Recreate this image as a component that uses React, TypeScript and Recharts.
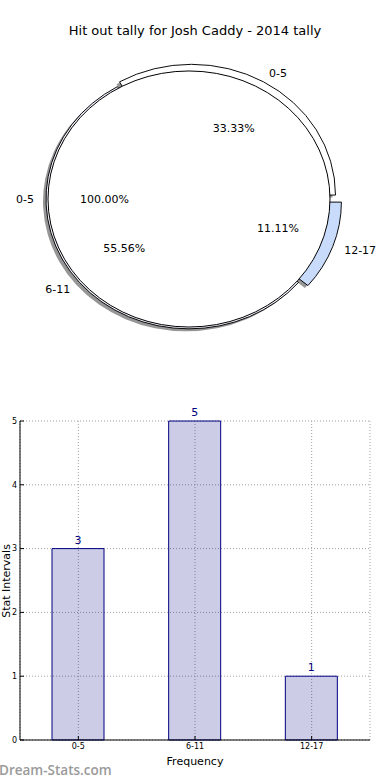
import {
  Bar,
  BarChart,
  CartesianGrid,
  LabelList,
  Pie,
  PieChart,
  Sector,
  XAxis,
  YAxis,
} from "recharts";

const sliceLabels = ["0-5", "6-11", "12-17"];
const sliceValues = [3, 5, 1];
const wholeLabels = ["0-5"];
const wholeValues = [1];
const barCategories = ["0-5", "6-11", "12-17"];
const barValues = [3, 5, 1];
const yTicks = [0, 1, 2, 3, 4, 5];

const FONT = "'DejaVu Sans', sans-serif";
const CX = 189;
const CY = 199;
const R = 141;
// matplotlib draws the pie a bit squashed
const SQUASH = 0.908;
const RAD = Math.PI / 180;

// per-wedge look (explode in px, radius in px)
const sliceFill = ["#ffffff", "#f3f5ff", "#c8dbfb"];
const sliceExplode = [5, 0, 10];
const sliceRadius = [144, 143, 143];

const slices = sliceLabels.map((name, i) => ({ name, value: sliceValues[i] }));
const whole = wholeLabels.map((name, i) => ({ name, value: wholeValues[i] }));
const bars = barCategories.map((name, i) => ({ name, value: barValues[i] }));

function shift(midAngle: number, d: number) {
  return [d * Math.cos(-midAngle * RAD), d * Math.sin(-midAngle * RAD) * SQUASH];
}

function wedge(shadow: boolean) {
  return (props: any) => {
    const { cx, cy, startAngle, endAngle, midAngle } = props;
    const i = sliceLabels.indexOf(props.name ?? props.payload?.name);
    const [dx, dy] = shift(midAngle, sliceExplode[i] ?? 0);
    const sx = shadow ? -3 : 0;
    const sy = shadow ? 2.5 : 0;
    return (
      <g transform={`translate(${cx + dx + sx} ${cy + dy + sy}) scale(1 ${SQUASH})`}>
        <Sector
          cx={0}
          cy={0}
          innerRadius={0}
          outerRadius={sliceRadius[i] ?? R}
          startAngle={startAngle}
          endAngle={endAngle}
          fill={shadow ? "#404040" : sliceFill[i]}
          fillOpacity={shadow ? 0.55 : 1}
          stroke={shadow ? "none" : "#000"}
          strokeWidth={1}
        />
      </g>
    );
  };
}

// single 100% wedge: a closed ellipse, no radial edge
function wholeShape(props: any) {
  const { cx, cy, outerRadius } = props;
  return (
    <ellipse
      cx={cx}
      cy={cy}
      rx={outerRadius}
      ry={outerRadius * SQUASH}
      fill="#fff"
      stroke="#000"
      strokeWidth={1}
    />
  );
}

function pieText(props: any, explode: number) {
  const { cx, cy, midAngle, percent, name } = props;
  const [dx, dy] = shift(midAngle, explode);
  const c = Math.cos(-midAngle * RAD);
  const s = Math.sin(-midAngle * RAD) * SQUASH;
  return (
    <g>
      <text
        x={cx + dx + 1.1 * R * c}
        y={cy + dy + 1.1 * R * s}
        textAnchor={c >= 0 ? "start" : "end"}
        dominantBaseline="central"
        fontSize={11}
        fontFamily={FONT}
        fill="#000"
      >
        {name}
      </text>
      <text
        x={cx + dx + 0.6 * R * c}
        y={cy + dy + 0.6 * R * s}
        textAnchor="middle"
        dominantBaseline="central"
        fontSize={11}
        fontFamily={FONT}
        fill="#000"
      >
        {(percent * 100).toFixed(2)}%
      </text>
    </g>
  );
}

const sliceText = (props: any) =>
  pieText(props, sliceExplode[sliceLabels.indexOf(props.name)] ?? 0);
const wholeText = (props: any) => pieText(props, 0);

export default function App() {
  return (
    <div
      style={{
        position: "fixed",
        left: 0,
        top: 0,
        width: 390,
        height: 780,
        background: "#fff",
        overflow: "hidden",
      }}
    >
      <div style={{ position: "absolute", left: 0, top: 0 }}>
        <PieChart width={390} height={380} margin={{ top: 0, right: 0, bottom: 0, left: 0 }}>
          <Pie
            data={slices}
            dataKey="value"
            nameKey="name"
            cx={CX}
            cy={CY}
            outerRadius={R}
            shape={wedge(true)}
            isAnimationActive={false}
          />
          <Pie
            data={slices}
            dataKey="value"
            nameKey="name"
            cx={CX}
            cy={CY}
            outerRadius={R}
            shape={wedge(false)}
            isAnimationActive={false}
          />
          <Pie
            data={whole}
            dataKey="value"
            nameKey="name"
            cx={CX}
            cy={CY}
            outerRadius={R}
            shape={wholeShape}
            label={wholeText}
            labelLine={false}
            isAnimationActive={false}
          />
          <Pie
            data={slices}
            dataKey="value"
            nameKey="name"
            cx={CX}
            cy={CY}
            outerRadius={R}
            shape={() => <g />}
            label={sliceText}
            labelLine={false}
            isAnimationActive={false}
          />
        </PieChart>
      </div>

      <div style={{ position: "absolute", left: 0, top: 380 }}>
        <BarChart
          width={390}
          height={400}
          data={bars}
          margin={{ top: 41, right: 20, bottom: 0, left: 0 }}
        >
          <CartesianGrid stroke="#a0a0a0" strokeDasharray="1 2" />
          <XAxis
            dataKey="name"
            height={40}
            interval={0}
            tickSize={-4}
            tickMargin={7}
            stroke="#000"
            tick={{ fontSize: 8, fill: "#000", fontFamily: FONT }}
          />
          <XAxis
            xAxisId="top"
            dataKey="name"
            orientation="top"
            height={0}
            tick={false}
            tickSize={-4}
            stroke="#000"
          />
          <YAxis
            domain={[0, 5]}
            ticks={yTicks}
            width={20}
            tickSize={-4}
            tickMargin={7}
            stroke="#000"
            tick={{ fontSize: 8, fill: "#000", fontFamily: FONT }}
          />
          <YAxis
            yAxisId="right"
            orientation="right"
            domain={[0, 5]}
            ticks={yTicks}
            width={0}
            tick={false}
            tickSize={-4}
            stroke="#000"
          />
          <Bar
            dataKey="value"
            barSize={52}
            fill="#000080"
            fillOpacity={0.2}
            stroke="#000080"
            strokeWidth={1}
            isAnimationActive={false}
          >
            <LabelList
              dataKey="value"
              position="top"
              fill="#000080"
              fontSize={11}
              fontFamily={FONT}
            />
          </Bar>
        </BarChart>
      </div>

      <svg
        width={390}
        height={780}
        style={{ position: "absolute", left: 0, top: 0, pointerEvents: "none" }}
      >
        <text x={195} y={35} textAnchor="middle" fontSize={13} fontFamily={FONT} fill="#000">
          Hit out tally for Josh Caddy - 2014 tally
        </text>
        <text
          x={10}
          y={581}
          transform="rotate(-90 10 581)"
          textAnchor="middle"
          fontSize={11}
          fontFamily={FONT}
          fill="#000"
        >
          Stat Intervals
        </text>
        <text x={195} y={765} textAnchor="middle" fontSize={11} fontFamily={FONT} fill="#000">
          Frequency
        </text>
        <text
          x={-1}
          y={775}
          fontSize={13.5}
          fontWeight={600}
          fontFamily="'Open Sans', sans-serif"
          fill="#9a9a9a"
        >
          Dream-Stats.com
        </text>
      </svg>
    </div>
  );
}
